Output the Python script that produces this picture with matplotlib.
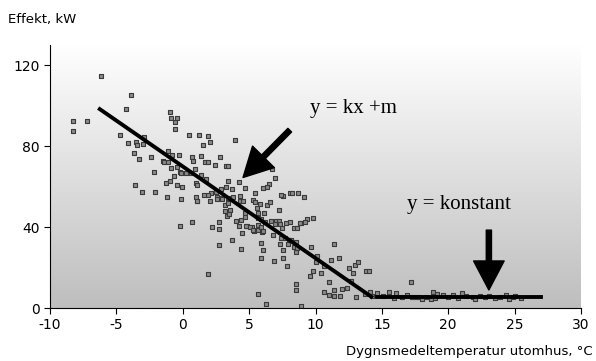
import numpy as np
import matplotlib
matplotlib.use('Agg')
import matplotlib.pyplot as plt
from matplotlib.colors import LinearSegmentedColormap

plt.rcParams['axes.unicode_minus'] = False

# Mätpunkter: dygnsmedeltemperatur (°C) och effekt (kW)
temp = [-6.15, -3.9, -4.3, -8.26, -7.2, -8.26, -0.93, -0.85, -0.43, -0.6, -0.6,
        0.45, 1.2, 1.93, 2.08, 1.5, 3.94, -4.74, -2.94, -3.54, -3.44, -3.0, -4.14,
        -3.7, -3.3, -2.4, -1.1, -0.78, -0.32, -1.5, -1.4, -1.1, 0.73, 0.78,
        1.4, 1.66, 1.93, 2.43, 2.79, 3.24, 3.39,
        -2.2, -0.85, -0.43, -0.23, -0.1, 0.28, 0.65, -0.65, -0.98, -1.28, -3.6,
        -0.43, -0.05, -3.1, -2.06, -1.2, -0.15,
        0.9, 0.98, 1.1, 1.03, 1.1, 0.7, -0.23,
        1.9, 2.18, 2.7, 2.7, 2.7, 3.74, 4.37, 4.44, 4.82, 5.22, 5.35, 6.0, 5.67, 6.25,
        5.9, 6.08, 5.9, 6.87, 7.55, 7.83, 7.55, 7.3, 7.96, 8.5, 8.5, 6.72, 6.95,
        1.4, 1.78, 3.41, 4.27, 4.7, 3.29, 3.74, 2.86, 2.54, 2.16, 1.9, 1.6,
        6.5, 6.35, 6.05, 5.42, 7.55, 8.1, 9.1, 2.58, 2.9, 3.41, 3.79, 4.29,
        1.1, 2.03, 2.6, 2.96, 3.16, 3.41, 3.16, 3.54, 3.36, 3.49,
        4.29, 4.54, 4.04, 4.42, 4.22, 4.67, 4.72, 4.8, 5.05,
        5.3, 5.67, 6.05, 5.3, 5.42, 5.8, 5.62, 6.35, 6.55,
        5.67, 6.1, 5.67, 5.93, 6.17, 5.67, 5.93, 7.23,
        6.67, 6.99, 7.23, 6.92, 7.3, 7.48, 7.76, 8.06, 8.36, 8.6, 8.94, 9.39,
        6.8, 7.43, 7.68, 7.98, 8.19, 8.5, 8.38, 8.6, 8.55,
        9.64, 10.1, 10.0, 9.8, 9.56, 10.44, 8.94, 10.65, 10.65, 8.8, 9.2, 9.8,
        11.37, 11.2, 11.75, 12.5, 12.95, 13.2, 12.82, 12.65, 13.78, 14.03, 11.0,
        11.02, 11.37, 11.37, 11.82, 12.0, 12.4, 13.03, 13.7, 14.13, 14.25, 14.63,
        15.08, 15.53, 16.09, 16.92, 17.2, 17.6, 18.85, 19.15, 19.6, 20.0, 18.7,
        17.3, 17.8, 18.3, 20.35, 21.0, 21.35, 21.86, 22.36, 23.1, 23.87, 24.37,
        24.87, 25.5, 16.5, 19.0, 20.7, 22.0, 22.8, 23.5, 24.6, 25.0, 15.9, 18.0,
        7.4, 8.2, 8.7]

effekt = [114.6, 105.5, 98.6, 92.3, 92.3, 87.7, 97, 93.7, 93.7, 91.7, 88.4,
          85.6, 85.6, 84.9, 82.1, 80.5, 82.8, 85.6, 84.6, 82.1, 80.5, 81, 81.7,
          76.4, 73.6, 74.7, 77.5, 75.5, 75.5, 72.6, 72, 72.2, 74.7, 72.6,
          74.9, 72.4, 72, 70.8, 74.4, 70.3, 70.3,
          67.3, 69, 69.5, 67.3, 66.5, 66.5, 66.5, 65.2, 62.9, 61.9, 60.6,
          60.6, 59.9, 57.1, 57.1, 54.8, 53.7,
          68.5, 62, 61, 54.8, 52.7, 42.3, 40.6,
          16.6, 40.1, 42.3, 38.9, 31, 33.7, 29.1, 37.2, 40.5, 39.9, 38, 37.7, 6.9, 2,
          32, 28.5, 24.7, 23.4, 24.7, 20.7, 28.5, 31.4, 31.4, 11.7, 8.7, 68.5, 64.5,
          65.5, 64, 62.9, 62.4, 59.4, 59.9, 58.9, 58.8, 57.4, 57, 55.8, 56.1,
          61.2, 59.6, 59.4, 56.6, 55.5, 56.6, 55, 55, 54.5, 54.5, 54.8, 55.5,
          52.8, 52.8, 53.8, 53.8, 50.9, 51.7, 47.9, 48.4, 45.6, 46.3,
          52.8, 52.8, 43, 43.6, 40.6, 46.8, 45.1, 40.6, 40.2,
          38.5, 38.5, 38, 53.3, 52.5, 51.2, 49.5, 50.9, 52.2,
          46.8, 46.8, 44.3, 44, 42.6, 41, 40.2, 48.6,
          43, 43, 43, 41.3, 41.3, 39.7, 41.8, 42.6, 39.4, 39.4, 41.8, 43.9,
          36, 34.7, 34.7, 33.6, 33.6, 32.7, 30.3, 29.5, 27.5,
          30.3, 25.7, 22.9, 18.3, 16, 17.1, 1, 20.9, 8.1, 41.8, 42.6, 44.3,
          31.6, 23.7, 24.5, 19.6, 21.2, 22.9, 17.1, 13.5, 18.4, 18.4, 12.7,
          6.4, 8.9, 5.9, 5.9, 9.4, 9.9, 5.3, 6.9, 8, 5.9, 7.6,
          5.9, 8, 7.6, 6.4, 12.7, 5.6, 8, 6.9, 6.4, 5.6, 4.3,
          5.6, 5.6, 5.6, 6.4, 7.2, 5.9, 5.6, 6.1, 5.9, 5.6, 6.4,
          5.3, 4.8, 5.2, 4.8, 4.9, 4.6, 5.4, 4.7, 4.5, 6.0, 4.9, 4.6,
          55.8, 56.6, 56.6]

# Anpassade linjer: y = kx + m och y = konstant
lutning_x = [-6.25, 14.2]
lutning_y = [98.3, 5.6]
konstant_x = [14.6, 27.0]
konstant_y = [5.3, 5.3]

xticks = [-10, -5, 0, 5, 10, 15, 20, 25, 30]
yticks = [0, 40, 80, 120]

fig = plt.figure(figsize=(5.96, 3.61), dpi=100)
ax = fig.add_axes([50 / 596, 1 - 308 / 361, 531 / 596, 263 / 361])

# Bakgrund med gradient (vit upptill, grå nedtill)
bg = LinearSegmentedColormap.from_list('bg', ['#ffffff', '#bebebe'])
grad = np.linspace(0, 1, 256).reshape(-1, 1)
ax.imshow(grad, extent=[-10, 30, 0, 130], aspect='auto', cmap=bg,
          origin='upper', zorder=0)

ax.scatter(temp, effekt, marker='s', s=11, facecolor='#8a8a8a',
           edgecolor='#3a3a3a', linewidths=0.8, zorder=2)
ax.plot(lutning_x, lutning_y, color='black', lw=2.8, zorder=3)
ax.plot(konstant_x, konstant_y, color='black', lw=2.8, zorder=3)

ax.set_xlim(-10, 30)
ax.set_ylim(0, 130)
ax.set_xticks(xticks)
ax.set_yticks(yticks)
ax.spines['top'].set_visible(False)
ax.spines['right'].set_visible(False)
ax.tick_params(labelsize=10, length=4, color='black')

fig.text(8 / 596, 1 - 20 / 361, 'Effekt, kW', fontsize=9.5, va='center', ha='left')
fig.text(593 / 596, 1 - 352 / 361, 'Dygnsmedeltemperatur utomhus, °C',
         fontsize=9.5, va='center', ha='right')

serif = 'Liberation Serif'
ax.text(9.56, 98.8, 'y = kx +m', fontsize=15, family=serif, va='center', ha='left')
ax.text(16.87, 51.4, 'y = konstant', fontsize=15, family=serif, va='center', ha='left')

pil = dict(arrowstyle='simple,head_length=0.95,head_width=1.0,tail_width=0.17',
           mutation_scale=22, color='black', shrinkA=0, shrinkB=0)
ax.annotate('', xy=(4.54, 64.5), xytext=(8.06, 87.9), arrowprops=pil, zorder=4)
ax.annotate('', xy=(23.06, 8.9), xytext=(23.06, 38.5), arrowprops=pil, zorder=4)

fig.savefig('out.png', dpi=100)
